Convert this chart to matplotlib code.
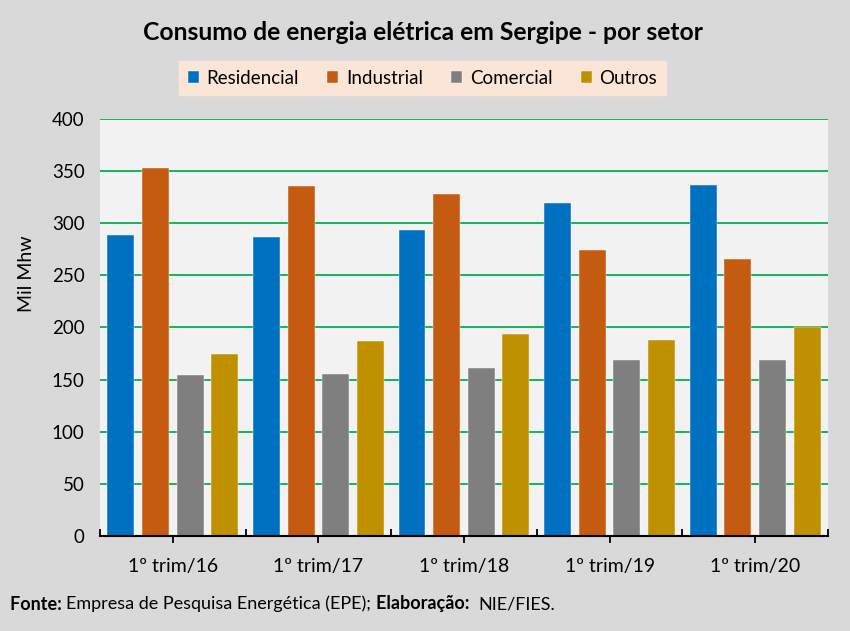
import matplotlib
matplotlib.use("Agg")
import matplotlib.pyplot as plt
import numpy as np
from matplotlib.ticker import FixedLocator

categories = ["1º trim/16", "1º trim/17", "1º trim/18", "1º trim/19", "1º trim/20"]
series_names = ["Residencial", "Industrial", "Comercial", "Outros"]
residencial = [289, 287, 294, 319, 337]
industrial = [353, 336, 328, 274, 266]
comercial = [154, 155, 161, 169, 169]
outros = [175, 187, 194, 188, 200]
yticks = [0, 50, 100, 150, 200, 250, 300, 350, 400]

colors = ["#0070C0", "#C55A11", "#7F7F7F", "#BF9000"]
plt.rcParams['font.family'] = ['Lato', 'DejaVu Sans']

fig = plt.figure(figsize=(8.5, 6.31), dpi=100, facecolor="#D9D9D9")
ax = fig.add_axes([0.1176, 0.1506, 0.8565, 0.6608])
ax.set_facecolor("#F2F2F2")

x = np.arange(len(categories))
step = 0.238
width = 0.185
data = [residencial, industrial, comercial, outros]
handles = []
for k, (name, vals) in enumerate(zip(series_names, data)):
    b = ax.bar(x + (k - 1.5) * step, vals, width, color=colors[k], label=name,
               edgecolor="#FFFFFF", linewidth=0.3, zorder=3)
    handles.append(b)

ax.set_xlim(-0.5, len(categories) - 0.5)
ax.set_ylim(0, 400)
ax.set_yticks(yticks)
ax.yaxis.grid(True, color="#00B050", linewidth=1.3, zorder=0)
ax.set_axisbelow(True)
for s in ["top", "right", "left"]:
    ax.spines[s].set_visible(False)
ax.spines["bottom"].set_color("black")
ax.spines["bottom"].set_linewidth(1.5)
ax.spines["bottom"].set_zorder(4)

ax.set_xticks(x)
ax.set_xticklabels(categories, fontsize=14)
ax.xaxis.set_minor_locator(FixedLocator(np.arange(-0.5, len(categories), 1.0)))
ax.tick_params(axis="x", which="major", direction="out", length=5, width=1.3, pad=11, colors="black")
ax.tick_params(axis="x", which="minor", direction="in", length=5, width=1.3)
ax.tick_params(axis="y", length=0, labelsize=13.5, pad=11)
ax.set_ylabel("Mil Mhw", fontsize=14)
ax.yaxis.set_label_coords(-0.089, 0.63)

fig.text(0.497, 0.949, "Consumo de energia elétrica em Sergipe - por setor",
         ha="center", va="center", fontsize=17.7, fontweight="bold")

leg = fig.legend(handles=handles, labels=series_names, loc="center",
                 bbox_to_anchor=(0.497, 0.876), ncol=4, fontsize=13.5,
                 frameon=True, fancybox=False, facecolor="#FBE5D6", edgecolor="#FBE5D6",
                 handlelength=0.6, handleheight=0.6, handletextpad=0.4, columnspacing=1.5,
                 borderpad=0.45)
leg.get_frame().set_alpha(1)

# footer: sequential text pieces
fig.canvas.draw()
renderer = fig.canvas.get_renderer()
pieces = [("Fonte:", "bold", " "), ("Empresa de Pesquisa Energética (EPE);", "normal", " "),
          ("Elaboração:", "bold", "  "), ("NIE/FIES.", "normal", "")]
xpos = 10.0
for txt, wt, sep in pieces:
    t = fig.text(xpos / 850, 1 - 604 / 631, txt + sep, fontsize=13, fontweight=wt,
                 ha="left", va="center")
    bb = t.get_window_extent(renderer=renderer)
    xpos += bb.width

fig.savefig("out.png", dpi=100, facecolor=fig.get_facecolor())
